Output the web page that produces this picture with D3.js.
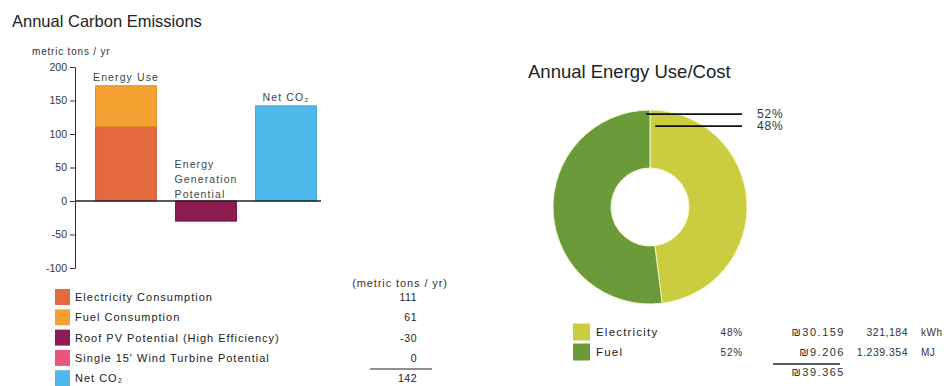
<!DOCTYPE html>
<html>
<head>
<meta charset="utf-8">
<script src="https://cdn.jsdelivr.net/npm/d3@7"></script>
<style>
  body { margin: 0; background: #fff; }
  svg { display: block; font-family: "Liberation Sans", Arial, sans-serif; }
</style>
</head>
<body>
<svg id="chart" width="952" height="386"></svg>
<script>
// ---------- Data: Annual Carbon Emissions ----------
const barGroups = ["Energy Use", "Energy Generation Potential", "Net CO₂"];
const seriesNames = [
  "Electricity Consumption",
  "Fuel Consumption",
  "Roof PV Potential (High Efficiency)",
  "Single 15' Wind Turbine Potential",
  "Net CO₂"
];
const seriesValues = [111, 61, -30, 0, 142];
const seriesGroup = [0, 0, 1, 1, 2];
const seriesColors = ["#E4693F", "#F5A132", "#8E1B52", "#E8567F", "#4FB9EC"];
const seriesStroke = ["#C95832", "#DD8C25", "#6E1040", "#C94268", "#3AA3D6"];
const yTicks = [-100, -50, 0, 50, 100, 150, 200];

// ---------- Data: Annual Energy Use/Cost ----------
const pieLabels = ["Electricity", "Fuel"];
const pieValues = [48, 52];
const pieColors = ["#C9CD3F", "#6A9A3A"];
const pieCosts = ["₪30.159", "₪9.206"];
const pieUsage = ["321,184", "1.239.354"];
const pieUnits = ["kWh", "MJ"];
const pieTotal = "₪39.365";

const svg = d3.select("#chart");
const txt = "#333";

// ================= Left: bar chart =================
svg.append("text").attr("x", 12).attr("y", 27)
  .attr("font-size", 16.5).attr("fill", "#222").text("Annual Carbon Emissions");
svg.append("text").attr("x", 32).attr("y", 55)
  .attr("font-size", 10).attr("letter-spacing", 0.8).attr("fill", txt).text("metric tons / yr");

const y = d3.scaleLinear().domain([-100, 200]).range([268, 67]);
const x = d3.scaleBand().domain(barGroups).range([86, 326])
  .paddingInner(0.24).paddingOuter(0.12);

// stacked segments
const segs = [];
const posAcc = barGroups.map(() => 0), negAcc = barGroups.map(() => 0);
seriesValues.forEach((v, i) => {
  const g = seriesGroup[i];
  let y0, y1;
  if (v >= 0) { y0 = posAcc[g]; y1 = y0 + v; posAcc[g] = y1; }
  else { y0 = negAcc[g]; y1 = y0 + v; negAcc[g] = y1; }
  if (v !== 0) segs.push({ i, g, y0, y1 });
});

svg.append("g").selectAll("rect").data(segs).join("rect")
  .attr("x", d => x(barGroups[d.g]))
  .attr("width", x.bandwidth())
  .attr("y", d => y(Math.max(d.y0, d.y1)))
  .attr("height", d => Math.abs(y(d.y0) - y(d.y1)))
  .attr("fill", d => seriesColors[d.i])
  .attr("stroke", d => seriesStroke[d.i])
  .attr("stroke-width", 1);

const axis = d3.axisLeft(y).tickValues(yTicks).tickFormat(d => String(d))
  .tickSize(5).tickSizeOuter(5).tickPadding(3);
const ag = svg.append("g").attr("transform", "translate(75,0)").call(axis);
ag.selectAll("text").attr("font-size", 10.5).attr("fill", txt).attr("font-family", "Liberation Sans, Arial");
ag.selectAll("line,path").attr("stroke", "#333");

svg.append("line").attr("x1", 75).attr("x2", 321)
  .attr("y1", y(0)).attr("y2", y(0)).attr("stroke", "#222").attr("stroke-width", 1.5);

// bar labels
const lblAttrs = sel => sel.attr("font-size", 10.5).attr("letter-spacing", 1.1).attr("fill", "#444");
svg.append("text").attr("x", x(barGroups[0]) + x.bandwidth() / 2).attr("y", y(posAcc[0]) - 5)
  .attr("text-anchor", "middle").call(lblAttrs).text(barGroups[0]);
svg.append("text").attr("x", x(barGroups[2]) + x.bandwidth() / 2).attr("y", y(posAcc[2]) - 5)
  .attr("text-anchor", "middle").call(lblAttrs).text(barGroups[2]);
const genLines = ["Energy", "Generation", "Potential"];
svg.append("g").selectAll("text").data(genLines).join("text")
  .attr("x", x(barGroups[1]) - 1)
  .attr("y", (d, k) => y(0) - 3 - (genLines.length - 1 - k) * 15)
  .call(lblAttrs).text(d => d);

// legend table
const lg = svg.append("g");
const rowY = k => 297 + k * 20.3;
lg.append("text").attr("x", 400).attr("y", 287).attr("text-anchor", "middle")
  .attr("font-size", 11).attr("letter-spacing", 0.9).attr("fill", txt).text("(metric tons / yr)");
seriesNames.forEach((n, k) => {
  lg.append("rect").attr("x", 55).attr("y", rowY(k) - 8).attr("width", 15).attr("height", 16)
    .attr("fill", seriesColors[k]);
  lg.append("text").attr("x", 75).attr("y", rowY(k) + 4).attr("font-size", 11)
    .attr("letter-spacing", 1.0).attr("fill", "#222").text(n);
  lg.append("text").attr("x", 417).attr("y", rowY(k) + 4).attr("text-anchor", "end")
    .attr("font-size", 10.5).attr("letter-spacing", 0.5).attr("fill", "#222").text(seriesValues[k]);
});
lg.append("line").attr("x1", 370).attr("x2", 432).attr("y1", 369).attr("y2", 369)
  .attr("stroke", "#222").attr("stroke-width", 1.2);

// ================= Right: donut =================
svg.append("text").attr("x", 528).attr("y", 78)
  .attr("font-size", 18.5).attr("fill", "#222").text("Annual Energy Use/Cost");

const cx = 650, cy = 207, rOut = 97, rIn = 39;
const pie = d3.pie().sort(null).value(d => d)(pieValues);
const arc = d3.arc().innerRadius(rIn).outerRadius(rOut);
const pg = svg.append("g").attr("transform", `translate(${cx},${cy})`);
pg.selectAll("path").data(pie).join("path")
  .attr("d", arc).attr("fill", (d, i) => pieColors[i])
  .attr("stroke", "#f4f7c0").attr("stroke-width", 1);

// leader lines (from slice start points)
const polar = (a, r) => [Math.sin(a) * r, -Math.cos(a) * r];
const leaders = [
  { i: 1, a: pie[1].endAngle - 0.04, r: 93 },
  { i: 0, a: pie[0].startAngle + 0.065, r: 81 }
];
leaders.forEach(L => {
  const p = polar(L.a, L.r);
  svg.append("line").attr("x1", cx + p[0]).attr("y1", cy + p[1])
    .attr("x2", 742).attr("y2", cy + p[1]).attr("stroke", "#111").attr("stroke-width", 1.8);
  svg.append("text").attr("x", 757).attr("y", cy + p[1] + 4).attr("font-size", 12)
    .attr("letter-spacing", 0.8).attr("fill", "#333").text(pieValues[L.i] + "%");
});

// donut legend table
const rY = k => 332 + k * 20;
pieLabels.forEach((n, k) => {
  svg.append("rect").attr("x", 573).attr("y", rY(k) - 8.5).attr("width", 17).attr("height", 17)
    .attr("fill", pieColors[k]);
  svg.append("text").attr("x", 596).attr("y", rY(k) + 4).attr("font-size", 11.5)
    .attr("letter-spacing", 1.2).attr("fill", "#222").text(n);
  svg.append("text").attr("x", 743).attr("y", rY(k) + 4).attr("text-anchor", "end")
    .attr("font-size", 10).attr("letter-spacing", 0.8).attr("fill", "#333").text(pieValues[k] + "%");
  svg.append("text").attr("x", 845).attr("y", rY(k) + 4).attr("text-anchor", "end")
    .attr("font-size", 11).attr("letter-spacing", 1.5).attr("fill", "#333").text(pieCosts[k]);
  svg.append("text").attr("x", 908).attr("y", rY(k) + 4).attr("text-anchor", "end")
    .attr("font-size", 10.5).attr("letter-spacing", 0.5).attr("fill", "#333").text(pieUsage[k]);
  svg.append("text").attr("x", 921).attr("y", rY(k) + 4)
    .attr("font-size", 10).attr("letter-spacing", 0.5).attr("fill", "#333").text(pieUnits[k]);
});
svg.append("line").attr("x1", 773).attr("x2", 840).attr("y1", 364).attr("y2", 364)
  .attr("stroke", "#222").attr("stroke-width", 1.3);
svg.append("text").attr("x", 845).attr("y", 376).attr("text-anchor", "end")
  .attr("font-size", 11).attr("letter-spacing", 1.5).attr("fill", "#333").text(pieTotal);
</script>
</body>
</html>
